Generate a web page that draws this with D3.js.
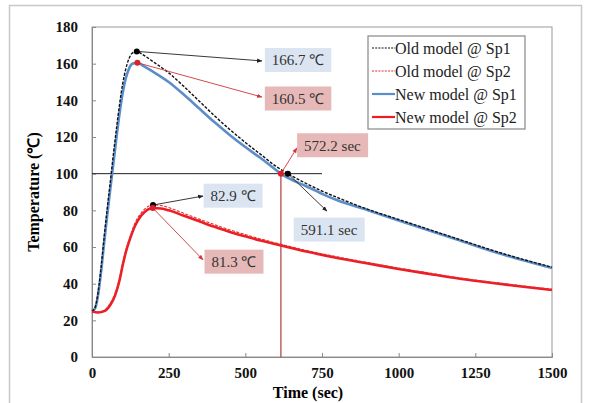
<!DOCTYPE html>
<html>
<head>
<meta charset="utf-8">
<script src="https://cdn.jsdelivr.net/npm/d3@7"></script>
<style>
  body { margin: 0; background: #fff; }
</style>
</head>
<body>
<div id="chart"></div>
<script>
const svgWidth = 593, svgHeight = 403;
const margin = {top: 27, right: 41, bottom: 46, left: 92};
const width = svgWidth - margin.left - margin.right;
const height = svgHeight - margin.top - margin.bottom;
const serif = '"Liberation Serif", "Times New Roman", serif';

// series: [time (sec), temperature (C)]
const newSp1 = [[0,25],[10,26.5],[20,34],[30,47],[40,63],[50,78],[60,92],[70,106],[80,120],[90,133],
  [100,144],[110,152],[120,157],[130,159.8],[148,160.5],[170,158.5],[200,155.5],[250,150],[300,143],
  [350,135.5],[400,128],[450,121],[500,114.5],[550,108.5],[600,102],[616,100],[700,93],[750,89],
  [800,85.5],[900,80],[1000,74.5],[1100,69],[1200,63.5],[1300,58],[1400,53],[1500,48.5]];
const oldSp1 = [[0,25],[10,27],[20,35.5],[30,49.5],[40,66],[50,81.5],[60,96],[70,111],[80,125],[90,138],
  [100,149],[110,157],[120,162.5],[130,165.5],[146,166.7],[165,165],[200,161],[250,155],[300,147.5],
  [350,139.5],[400,131.5],[450,124],[500,117],[550,110.5],[600,104],[639,100],[700,94.5],[750,90.5],
  [800,87],[900,80.5],[1000,75],[1100,69.5],[1200,64],[1300,58.5],[1400,53.5],[1500,49]];
const newSp2 = [[0,25],[20,24.3],[40,25],[60,28.5],[75,33.5],[90,42],[100,50],[110,57],[125,65],[140,71.5],
  [160,77],[180,80.3],[200,81.3],[225,81],[250,80],[300,77],[350,74],[400,71],[450,68.2],[500,65.8],
  [550,63.5],[600,61.5],[650,59.5],[700,57.5],[800,54],[900,51],[1000,48],[1100,45.3],[1200,42.7],
  [1300,40.5],[1400,38.5],[1500,36.5]];
const oldSp2 = [[0,25],[20,24.5],[40,25.5],[60,29.5],[75,34.5],[90,43],[100,51],[110,58],[125,66],[140,73],
  [160,78.5],[180,81.8],[199,82.9],[225,82.6],[250,81.5],[300,78.3],[350,75.2],[400,72.2],[450,69.3],
  [500,66.8],[550,64.4],[600,62.2],[650,60.1],[700,58.1],[800,54.6],[900,51.5],[1000,48.5],
  [1100,45.8],[1200,43.1],[1300,40.9],[1400,38.9],[1500,37]];

const seriesNames = ["Old model @ Sp1", "Old model @ Sp2", "New model @ Sp1", "New model @ Sp2"];
const xTicks = [0, 250, 500, 750, 1000, 1250, 1500];
const yTicks = [0, 20, 40, 60, 80, 100, 120, 140, 160, 180];

// annotations: marked point, arrow tip, label centre (all in data units)
const annPoints = [[146,166.7],[148,160.5],[616,100],[639,100],[199,82.9],[198,81.3]];
const annTips = [[554,161.5],[554,141.8],[668,114],[766,79.6],[362,87.8],[362,53]];
const annCentres = [[672,162],[672,141],[784,115.5],[773,69.5],[460,88],[463,52]];
const annTexts = ["166.7 \u2103", "160.5 \u2103", "572.2 sec", "591.1 sec", "82.9 \u2103", "81.3 \u2103"];
const annKind = ["old", "new", "new", "old", "old", "new"];

const crossTime = 616, refTemp = 100, refEnd = 750;

const svg = d3.select('#chart')
    .append('svg')
    .attr('width', svgWidth)
    .attr('height', svgHeight)
    .style('font-family', serif);

// outer frame
svg.append('rect')
    .attr('x', 9.5).attr('y', 5.5)
    .attr('width', 572).attr('height', 402)
    .attr('fill', 'none').attr('stroke', '#c8c8c8').attr('stroke-width', 1.5);

const chart = svg.append('g')
    .attr("transform", "translate(" + margin.left + "," + margin.top + ")");

const xScale = d3.scaleLinear().domain([0, 1500]).range([0, width]);
const yScale = d3.scaleLinear().domain([0, 180]).range([height, 0]);

// plot frame
chart.append('rect')
    .attr('width', width).attr('height', height)
    .attr('fill', 'none').attr('stroke', '#999').attr('stroke-width', 1);

// axes with inward ticks
const xAxis = chart.append('g')
    .attr('transform', `translate(0,${height})`)
    .call(d3.axisBottom(xScale).tickValues(xTicks).tickSize(-4).tickPadding(16).tickFormat(d3.format('d')));
const yAxis = chart.append('g')
    .call(d3.axisLeft(yScale).tickValues(yTicks).tickSize(-4).tickPadding(14));

[xAxis, yAxis].forEach(a => {
    a.attr('font-family', serif);
    a.select('.domain').attr('stroke', '#888');
    a.selectAll('.tick line').attr('stroke', '#888');
    a.selectAll('text')
        .attr('fill', '#111')
        .style('font-family', serif)
        .style('font-size', '15px')
        .style('font-weight', 'bold');
});
xAxis.selectAll('text').attr('dy', '0.35em');

// axis titles
svg.append('text')
    .attr('x', 308).attr('y', 398)
    .attr('text-anchor', 'middle')
    .style('font-family', serif)
    .style('font-size', '16px').style('font-weight', 'bold')
    .text('Time (sec)');
svg.append('text')
    .attr('transform', 'translate(39,' + (margin.top + height / 2) + ') rotate(-90)')
    .attr('text-anchor', 'middle')
    .style('font-family', serif)
    .style('font-size', '16px').style('font-weight', 'bold')
    .text('Temperature (\u2103)');

// reference lines
chart.append('line')
    .attr('x1', xScale(0)).attr('x2', xScale(refEnd))
    .attr('y1', yScale(refTemp)).attr('y2', yScale(refTemp))
    .attr('stroke', '#222').attr('stroke-width', 1);
chart.append('line')
    .attr('x1', xScale(crossTime)).attr('x2', xScale(crossTime))
    .attr('y1', yScale(refTemp)).attr('y2', yScale(0))
    .attr('stroke', '#b03a3a').attr('stroke-width', 1.2);

// curves
const line = d3.line()
    .x(d => xScale(d[0]))
    .y(d => yScale(d[1]))
    .curve(d3.curveMonotoneX);

const styles = [
    {data: newSp1, color: '#5b8dc9', width: 2.6, dash: null},
    {data: newSp2, color: '#ee1c24', width: 2.6, dash: null},
    {data: oldSp1, color: '#111', width: 1.4, dash: '3,1.5'},
    {data: oldSp2, color: '#e03030', width: 1.1, dash: '3,1.5'}
];

chart.selectAll('path.series')
    .data(styles)
    .join('path')
    .attr('class', 'series')
    .attr('d', d => line(d.data))
    .attr('fill', 'none')
    .attr('stroke', d => d.color)
    .attr('stroke-width', d => d.width)
    .attr('stroke-dasharray', d => d.dash);

// arrow markers
const defs = svg.append('defs');
[['arrow-old', '#222'], ['arrow-new', '#d0343a']].forEach(([id, c]) => {
    defs.append('marker')
        .attr('id', id)
        .attr('viewBox', '0 0 10 10')
        .attr('refX', 9).attr('refY', 5)
        .attr('markerWidth', 6).attr('markerHeight', 6)
        .attr('orient', 'auto')
        .append('path')
        .attr('d', 'M0,1 L10,5 L0,9 z')
        .attr('fill', c);
});

const annColor = {old: '#222', new: '#d0343a'};
const boxColor = {old: '#dbe5f1', new: '#e6b9b8'};

annTexts.forEach((txt, i) => {
    const k = annKind[i];
    const p = annPoints[i], tip = annTips[i], c = annCentres[i];
    chart.append('line')
        .attr('x1', xScale(p[0])).attr('y1', yScale(p[1]))
        .attr('x2', xScale(tip[0])).attr('y2', yScale(tip[1]))
        .attr('stroke', annColor[k]).attr('stroke-width', 0.9)
        .attr('marker-end', `url(#arrow-${k})`);
    chart.append('circle')
        .attr('cx', xScale(p[0])).attr('cy', yScale(p[1]))
        .attr('r', 3)
        .attr('fill', k === 'old' ? '#000' : '#e0202a');

    const g = chart.append('g');
    const t = g.append('text')
        .attr('x', xScale(c[0])).attr('y', yScale(c[1]))
        .attr('text-anchor', 'middle')
        .attr('dy', '0.35em')
        .attr('fill', '#333')
        .style('font-family', serif)
        .style('font-size', '15px')
        .text(txt);
    const bb = t.node().getBBox();
    g.insert('rect', 'text')
        .attr('x', bb.x - 7).attr('y', yScale(c[1]) - 12)
        .attr('width', bb.width + 14).attr('height', 24)
        .attr('fill', boxColor[k]);
});

// legend
const legend = svg.append('g').attr('transform', 'translate(368,36)');
legend.append('rect')
    .attr('width', 157).attr('height', 93)
    .attr('fill', '#fff').attr('stroke', '#888').attr('stroke-width', 1.2);
const legendStyles = [styles[2], styles[3], styles[0], styles[1]];
seriesNames.forEach((name, i) => {
    const s = legendStyles[i];
    const y = 12 + i * 23;
    legend.append('line')
        .attr('x1', 4).attr('x2', 27).attr('y1', y).attr('y2', y)
        .attr('stroke', s.color)
        .attr('stroke-width', s.dash ? 1.1 : 2.2)
        .attr('stroke-dasharray', s.dash ? '2,1.2' : null);
    legend.append('text')
        .attr('x', 27).attr('y', y).attr('dy', '0.35em')
        .style('font-family', serif)
        .style('font-size', '16px')
        .attr('fill', '#222')
        .text(name);
});
</script>
</body>
</html>
